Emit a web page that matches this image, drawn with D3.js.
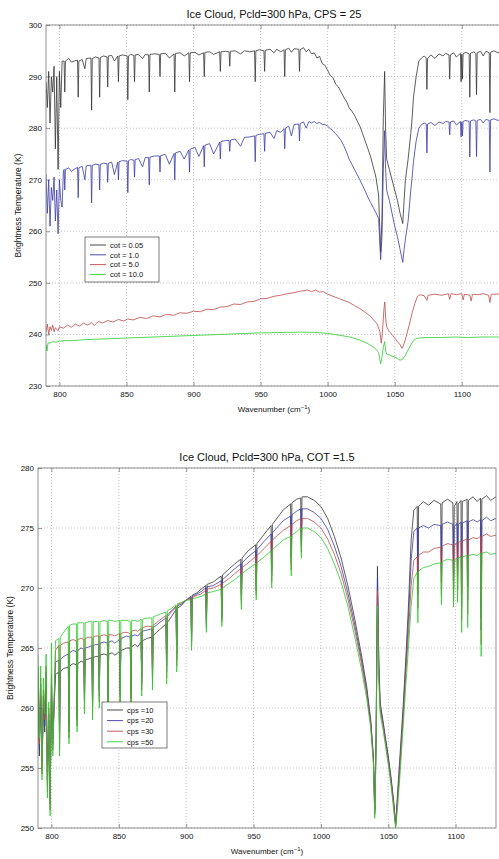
<!DOCTYPE html>
<html>
<head>
<meta charset="utf-8">
<script src="https://cdn.jsdelivr.net/npm/d3@7"></script>
<style>
  body { margin: 0; background: #fff; }
  text { font-family: "Liberation Sans", Arial, sans-serif; fill: #111; }
</style>
<script>
// ---- data ----
var xTicks = [800, 850, 900, 950, 1000, 1050, 1100];
var topYTicks = [230, 240, 250, 260, 270, 280, 290, 300];
var botYTicks = [250, 255, 260, 265, 270, 275, 280];
var topNames = ["cot = 0.05", "cot = 1.0", "cot = 5.0", "cot = 10.0"];
var botNames = ["cps =10", "cps =20", "cps =30", "cps =50"];
var lineColors = ["#333333", "#3a3aa8", "#c04848", "#2ccc2c"];

// top panel, [wavenumber, K]
var cot005 = [[790,289],[791,284],[792,291],[793,281],[794,290],[795,287],[796,292],[797,276],[798,290],[799,272],[800,291],[801,284],[802,293],[803.5,293],[804,287],[804.5,293],[807,293.5],[809,292.8],[811,293],[813.5,293.2],[814,286],[814.5,293],[817,293.3],[819,291.5],[820,293.5],[823.5,293.6],[824,283.5],[824.5,293.5],[827,293.8],[829.5,293.6],[830,286],[830.5,293.7],[833,294],[835.5,293.8],[836,288],[836.5,294],[839,294.1],[841,293],[843.5,294],[844,289],[844.5,294],[847,294.2],[850.5,294],[851,285.5],[851.5,294],[853,294.3],[855.5,294.1],[856,289],[856.5,294.2],[859,294.3],[862,293.5],[864,294.3],[866.5,294.2],[867,287],[867.5,294.3],[871,294.4],[874.5,294.3],[875,290],[875.5,294.4],[879,294.5],[882,293.6],[885.5,294.4],[886,287],[886.5,294.5],[890,294.6],[893,294],[896.5,294.6],[897,289],[897.5,294.6],[901,294.7],[904,294.2],[907.5,294.6],[908,290],[908.5,294.7],[912,294.8],[915,294.3],[919.5,294.8],[920,291],[920.5,294.8],[924,294.9],[926.5,294.8],[927,292],[927.5,294.9],[931,295],[935,294.4],[938,295],[942,294.8],[945.5,295],[946,289],[946.5,295],[949,295.2],[952.5,295],[953,291],[953.5,295.1],[957,295.3],[960,294.6],[962,295.3],[965,294.8],[967.5,295.2],[968,290],[968.5,295.2],[971,295.5],[973,294.7],[975,295.4],[978.5,295.3],[979,291],[979.5,295.2],[982,295.6],[984,294.8],[986,295.3],[988,294.4],[990,294.6],[992,293.6],[994,293.9],[996,292.5],[998,292.2],[1000,291.2],[1002,290.2],[1004,289.8],[1006,288.5],[1008,288],[1010,287],[1012,286],[1014,285.2],[1016,284],[1018,283.3],[1020,282.5],[1022,281.4],[1024,280.4],[1026,279],[1028,277.5],[1030,276],[1032,274.5],[1034,272.5],[1036,270.5],[1038,267],[1039.5,256],[1040.5,262],[1041.5,282],[1042.5,291],[1043.2,280],[1044,274],[1046,272],[1048,270],[1050,268],[1052,266],[1054,263.5],[1056,261.5],[1057,266],[1058,270],[1060,274],[1062,279],[1063,282],[1064,286],[1066,290],[1068,293],[1070,293.6],[1072,294],[1073.5,293.6],[1074,287.5],[1074.5,293.5],[1077,294.2],[1080,293.5],[1083,294.4],[1086,294],[1088,294.5],[1090.5,294.2],[1091,289.5],[1091.5,294.2],[1094,294.6],[1096,293.8],[1099,294.5],[1099.5,289],[1100,294.3],[1100.5,289.5],[1101,294.4],[1103,294.7],[1105.5,294.4],[1106,286],[1106.5,294.5],[1109,294.8],[1110.5,294.5],[1111,286.5],[1111.5,294.6],[1114,294.9],[1116,294],[1118,294.9],[1120.5,294.6],[1121,283],[1121.5,294.7],[1124,295],[1127,294.6],[1130,295]];

var cot1 = [[790,271],[791,263.5],[792,270],[793,261],[794,268.5],[795,266],[796,270.5],[797,262],[798,268],[799,259.5],[800,270],[801,266],[802,264.7],[803,271.8],[803.5,272],[804,268],[804.5,272],[807,272.3],[809,271.6],[811,272],[813.5,272.4],[814,266.5],[814.5,272.3],[817,272.6],[819,270],[820,272.7],[823.5,272.8],[824,265.5],[824.5,272.8],[827,273],[829.5,272.9],[830,268],[830.5,273],[833,273.2],[835.5,273.1],[836,269.5],[836.5,273.2],[839,273.4],[841,271],[843.5,273.4],[844,270],[844.5,273.5],[847,273.7],[850.5,273.6],[851,267.5],[851.5,273.7],[853,273.9],[855.5,273.8],[856,270.5],[856.5,273.9],[859,274.1],[862,272.5],[864,274.3],[866.5,274.3],[867,269],[867.5,274.4],[871,274.6],[874.5,274.6],[875,271.5],[875.5,274.7],[879,274.9],[882,273],[885.5,275.1],[886,270],[886.5,275.2],[890,275.5],[893,274],[896.5,275.8],[897,271.5],[897.5,275.9],[901,276.3],[904,274.5],[907.5,276.6],[908,272.5],[908.5,276.7],[912,277],[915,275],[919.5,277.3],[920,274],[920.5,277.4],[924,277.6],[926.5,277.6],[927,275.5],[927.5,277.7],[931,277.9],[935,276.5],[938,278.2],[942,278.3],[945.5,278.5],[946,273.5],[946.5,278.6],[949,278.8],[952.5,278.9],[953,275.5],[953.5,279],[957,279.2],[960,278],[962,279.5],[965,279.2],[967.5,279.9],[968,276],[968.5,280],[971,280.4],[973,278.5],[975,280.7],[978.5,280.8],[979,277.5],[979.5,280.9],[982,281.2],[984,280],[986,281.3],[988,281],[990,281.3],[992,280.9],[994,281.1],[996,280.7],[998,280.7],[1000,280.4],[1002,279.9],[1004,279.5],[1006,278.9],[1008,278.3],[1010,277.6],[1012,276.6],[1014,275.4],[1016,274],[1018,273],[1020,272],[1022,271],[1024,270],[1026,268.9],[1028,267.8],[1030,266.6],[1032,265.6],[1034,264.6],[1036,263.6],[1038,262.5],[1039.5,254.5],[1040.5,259],[1041.5,272],[1042.5,279.5],[1043.2,272],[1044,268],[1046,266],[1048,263.5],[1050,261],[1052,259],[1054,256.5],[1056,254],[1057,256.5],[1058,258.5],[1060,262],[1062,268],[1063,270.5],[1064,273.5],[1066,277.5],[1068,280],[1070,280.7],[1072,281],[1073.5,280.8],[1074,275.2],[1074.5,280.8],[1077,281.1],[1080,280.5],[1083,281.2],[1086,280.9],[1088,281.3],[1090.5,281.2],[1091,278.7],[1091.5,281.2],[1094,281.4],[1096,280.6],[1099,281.3],[1099.5,278.3],[1100,281.2],[1100.5,278.5],[1101,281.3],[1103,281.5],[1105.5,281.3],[1106,274.4],[1106.5,281.4],[1109,281.6],[1110.5,281.4],[1111,274.5],[1111.5,281.5],[1114,281.7],[1116,281],[1118,281.7],[1120.5,281.5],[1121,271.5],[1121.5,281.6],[1124,281.8],[1127,281.5],[1130,281.8]];

var cot5 = [[790,240.5],[791,242],[792,240],[793,241.5],[794,240.8],[795,241.8],[796,240.5],[797,241.3],[799,240.7],[800,241.5],[803,241.2],[806,241.8],[809,241.4],[812,242],[815,241.6],[818,242.2],[821,241.8],[824,242.3],[826,241.7],[829,242.5],[832,242.2],[836,242.7],[840,242.4],[844,242.9],[848,242.6],[851,243],[855,242.8],[860,243.3],[865,243.1],[870,243.6],[875,243.4],[880,243.9],[885,243.7],[890,244.2],[895,244.1],[900,244.5],[905,244.4],[910,244.9],[915,244.8],[920,245.3],[925,245.4],[930,245.9],[935,245.8],[940,246.3],[945,246.4],[950,246.9],[955,247],[960,247.4],[965,247.6],[970,247.9],[975,248.1],[980,248.4],[985,248.6],[988,248.3],[991,248.6],[994,248.2],[997,248.3],[1000,247.8],[1004,247.4],[1008,247],[1012,246.6],[1016,246.2],[1020,245.6],[1024,245],[1028,244.3],[1032,243.5],[1035,242.6],[1037,242],[1039,240.5],[1040,238.3],[1041,241],[1042,245],[1042.6,246.3],[1043.3,243],[1044,241.5],[1046,240.5],[1048,240],[1050,239.3],[1052,238.6],[1054,238],[1055.5,237.3],[1057,238.2],[1059,240],[1061,242],[1063,244.2],[1065,246],[1067,247.4],[1069,247.7],[1072,247.5],[1074,246.6],[1075,247.6],[1080,247.8],[1085,247.6],[1090,247.9],[1091,246.8],[1092,247.9],[1096,247.7],[1100,247.9],[1101,246.7],[1102,247.8],[1106,247.6],[1107,246.5],[1108,247.8],[1112,247.7],[1116,247.9],[1120,247.6],[1121,246.2],[1122,247.8],[1126,247.8],[1130,247.9]];

var cot10 = [[790,238],[790.8,236.8],[791.5,238.4],[793,238.3],[795,238.6],[798,238.5],[800,238.7],[805,238.8],[810,238.8],[820,239],[830,239.1],[840,239.2],[850,239.3],[860,239.4],[870,239.5],[880,239.6],[890,239.7],[900,239.8],[910,239.9],[920,240],[930,240.1],[940,240.2],[950,240.3],[960,240.35],[970,240.4],[980,240.45],[990,240.4],[1000,240.2],[1010,239.8],[1018,239.4],[1024,238.9],[1030,238.2],[1035,237.4],[1038,236.5],[1039.5,234.3],[1040.5,235.5],[1041.5,237.5],[1042.5,238.6],[1043.3,236.8],[1044,236.2],[1046,236],[1048,235.8],[1050,235.6],[1052,235.3],[1054,235],[1056,235.2],[1058,236],[1060,237],[1062,238],[1064,238.8],[1066,239.2],[1068,239.3],[1075,239.4],[1085,239.4],[1095,239.5],[1105,239.4],[1115,239.5],[1125,239.5],[1130,239.5]];

// bottom panel: shared wavenumbers, one value list per cps
var wnB = [
  790, 791, 792, 793, 794, 795, 796, 797, 798, 799,
  800, 801, 803, 805.5, 806, 806.5, 809, 812.5, 813, 813.5,
  816, 818.5, 819, 819.5, 822, 824, 824.5, 825, 828, 830,
  830.5, 831, 833, 835, 835.5, 836, 839, 841.5, 842, 842.5,
  845, 847, 850.5, 851, 851.5, 854, 856, 858.5, 859, 859.5,
  862, 864, 866.5, 867, 867.5, 871, 874.5, 875, 875.5, 878,
  880, 885, 885.5, 886, 889, 892.5, 893, 893.5, 897, 900,
  903.5, 904, 904.5, 908, 911, 914.5, 915, 915.5, 920, 926,
  926.5, 927, 932, 936, 940.5, 941, 941.5, 946, 951.5, 952,
  952.5, 958, 963, 963.5, 964, 968, 972, 977.5, 978, 978.5,
  982, 985, 985.5, 986, 990, 995, 1000, 1005, 1010, 1015,
  1020, 1025, 1030, 1034, 1037, 1039, 1040, 1041, 1042, 1043,
  1044, 1046, 1048, 1050, 1052, 1054, 1055.5, 1057, 1059, 1061,
  1063, 1065, 1067, 1069, 1071.5, 1072, 1072.5, 1076, 1080, 1084,
  1089, 1089.5, 1090, 1094, 1098, 1098.5, 1099, 1101, 1101.5, 1102,
  1104, 1104.5, 1105, 1108.5, 1109, 1109.5, 1113, 1116, 1118.5, 1119,
  1119.5, 1123, 1126, 1130];

var cps10 = [
  262, 256, 261, 255.5, 260, 258, 262, 254, 259, 252.5,
  261, 257.5, 262.8, 263, 257.5, 263, 263.3, 263.4, 258.5, 263.5,
  263.7, 263.6, 259.5, 263.7, 263.9, 263.8, 260.8, 264, 264.1, 264.2,
  260.5, 264.2, 264.3, 264.3, 261.5, 264.4, 264.5, 264.4, 261, 264.5,
  264.6, 264.4, 264.7, 261.5, 264.8, 264.9, 265, 265, 261.2, 265.1,
  265.3, 265.1, 265.5, 262.5, 265.6, 265.8, 265.9, 263, 266, 266.3,
  266.5, 267, 263.5, 267.1, 267.6, 268.2, 264.5, 268.3, 268.6, 269,
  269.3, 265.8, 269.4, 269.6, 269.9, 270.2, 267.3, 270.3, 270.5, 271,
  267.8, 271.1, 271.6, 272, 272.4, 269.4, 272.5, 273.1, 273.6, 270.2,
  273.7, 274.5, 275.2, 271.5, 275.3, 275.9, 276.5, 277, 272.5, 277.1,
  277.4, 277.5, 274, 277.6, 277.6, 277.3, 276.8, 275.8, 274.3, 272.5,
  270.2, 267.5, 264.5, 261.8, 259, 256, 251.5, 258, 271.8, 264,
  260.5, 259, 257.5, 256, 254.3, 252.3, 250.3, 253, 256.5, 260,
  264, 268.5, 274, 276.5, 276.8, 270.5, 276.8, 277.2, 276.9, 277.3,
  277, 271.5, 277.1, 277.4, 277.1, 271, 276.8, 277.2, 272, 277,
  277.3, 269.5, 277.2, 277.4, 270, 277.3, 277.6, 277.2, 277.5, 267.5,
  277.4, 277.7, 277.3, 277.6];

var cps20 = [
  263, 256.5, 262, 255, 261, 258.5, 263, 253.5, 259.5, 252,
  262, 257, 263.8, 264, 257, 264, 264.3, 264.5, 258, 264.6,
  264.8, 264.7, 259, 264.8, 265, 264.9, 260.5, 265, 265.1, 265.2,
  260, 265.2, 265.3, 265.3, 261, 265.4, 265.5, 265.4, 260.5, 265.5,
  265.6, 265.4, 265.7, 261, 265.8, 265.9, 266, 265.9, 260.8, 266,
  266.1, 266, 266.3, 262, 266.4, 266.5, 266.6, 262.5, 266.7, 266.9,
  267.1, 267.5, 263, 267.6, 268, 268.4, 264, 268.5, 268.7, 269,
  269.2, 265.5, 269.3, 269.5, 269.7, 270, 267, 270.1, 270.2, 270.6,
  267.5, 270.7, 271.2, 271.6, 272, 269, 272.1, 272.6, 273.1, 269.8,
  273.2, 273.9, 274.5, 271, 274.6, 275.1, 275.6, 276, 272, 276.1,
  276.4, 276.6, 273.5, 276.6, 276.6, 276.3, 275.8, 274.9, 273.5, 271.8,
  269.6, 267, 264.1, 261.5, 258.8, 255.8, 251.3, 257.5, 270.8, 263.5,
  260.2, 258.8, 257.3, 255.8, 254.1, 252.1, 250.2, 252.6, 256, 259.5,
  263.3, 267.3, 272.3, 274.7, 275, 269.5, 275, 275.2, 275, 275.3,
  275.2, 270.5, 275.3, 275.5, 275.3, 270, 275.1, 275.4, 271, 275.3,
  275.5, 268.5, 275.4, 275.6, 269, 275.5, 275.7, 275.5, 275.7, 266.5,
  275.6, 275.9, 275.6, 275.8];

var cps30 = [
  263.5, 257, 262.5, 254.5, 261.5, 259, 263.5, 253, 260, 251.5,
  262.8, 256.5, 264.8, 265.2, 256.5, 265.2, 265.4, 265.5, 257.5, 265.6,
  265.7, 265.6, 258.5, 265.7, 265.8, 265.7, 260, 265.8, 265.9, 265.9,
  259.5, 265.9, 266, 266, 260.5, 266, 266.1, 266, 260, 266.1,
  266.1, 266, 266.2, 260.5, 266.2, 266.3, 266.3, 266.2, 260.5, 266.4,
  266.5, 266.4, 266.6, 261.5, 266.7, 266.8, 266.8, 262, 266.9, 267.1,
  267.3, 267.7, 262.5, 267.8, 268.1, 268.5, 263.5, 268.6, 268.8, 269,
  269.1, 265.2, 269.2, 269.4, 269.5, 269.8, 266.7, 269.9, 270, 270.3,
  267.2, 270.4, 270.8, 271.2, 271.6, 268.6, 271.7, 272.1, 272.6, 269.4,
  272.7, 273.3, 273.9, 270.5, 274, 274.4, 274.8, 275.2, 271.5, 275.3,
  275.6, 275.8, 273, 275.8, 275.8, 275.5, 275, 274.1, 272.8, 271.2,
  269.1, 266.6, 263.8, 261.2, 258.6, 255.6, 251.1, 257, 269.8, 263,
  259.9, 258.6, 257.1, 255.6, 253.9, 251.9, 250.1, 252.3, 255.6, 259,
  262.7, 266.2, 270.2, 272.3, 272.6, 268.3, 272.7, 273, 273, 273.3,
  273.4, 269.3, 273.5, 273.7, 273.6, 268.9, 273.5, 273.8, 269.8, 273.8,
  273.9, 267.3, 273.9, 274.1, 267.8, 274, 274.2, 274.1, 274.3, 265.3,
  274.3, 274.5, 274.3, 274.4];

var cps50 = [
  264.5, 257.5, 263.5, 254, 262.5, 259.5, 264.5, 252.5, 260.5, 251,
  265.4, 256, 265.6, 265.8, 256, 265.9, 266.3, 266.8, 257, 266.9,
  267, 267, 258, 267.1, 267.1, 267.1, 259.5, 267.1, 267.2, 267.2,
  259, 267.2, 267.2, 267.2, 260, 267.2, 267.3, 267.2, 259.5, 267.3,
  267.3, 267.2, 267.3, 260, 267.3, 267.3, 267.3, 267.2, 260.2, 267.3,
  267.3, 267.2, 267.4, 261, 267.4, 267.5, 267.5, 261.5, 267.6, 267.7,
  267.8, 268, 262, 268.1, 268.3, 268.6, 263, 268.7, 268.8, 269,
  269, 264.8, 269.1, 269.2, 269.3, 269.5, 266.3, 269.6, 269.7, 269.9,
  266.8, 270, 270.4, 270.7, 271.1, 268.2, 271.2, 271.6, 272, 269,
  272.1, 272.6, 273.1, 270, 273.2, 273.6, 274, 274.3, 271, 274.4,
  274.7, 275, 272.5, 275, 275, 274.7, 274.2, 273.3, 272, 270.5,
  268.5, 266, 263.3, 260.8, 258.3, 255.3, 250.8, 256.5, 268.5, 262.3,
  259.5, 258.3, 256.8, 255.3, 253.6, 251.6, 250, 251.8, 254.8, 258.3,
  261.8, 265, 268.5, 270.8, 271.3, 267.1, 271.4, 271.7, 271.8, 272,
  272.1, 268.6, 272.2, 272.4, 272.3, 268.4, 272.2, 272.5, 268.8, 272.5,
  272.6, 266.3, 272.6, 272.7, 266.7, 272.7, 272.8, 272.7, 272.9, 264.3,
  272.9, 273, 272.8, 272.9];

function drawPanel(svg, p, id) {
    var x = d3.scaleLinear().domain([790, 1130]).range([p.left, p.right]);
    var y = d3.scaleLinear().domain(p.yDomain).range([p.bottom, p.top]);
    var h = p.bottom - p.top, w = p.right - p.left;

    svg.append("clipPath").attr("id", id)
       .append("rect").attr("x", p.left).attr("y", p.top).attr("width", w).attr("height", h);

    // dotted grid
    var grid = svg.append("g").attr("stroke", "#9a9a9a").attr("stroke-width", 0.6)
                  .attr("stroke-dasharray", "1,2");
    grid.selectAll(".gx").data(xTicks).enter().append("line")
        .attr("x1", d => x(d)).attr("x2", d => x(d)).attr("y1", p.top).attr("y2", p.bottom);
    grid.selectAll(".gy").data(p.yTicks).enter().append("line")
        .attr("x1", p.left).attr("x2", p.right).attr("y1", d => y(d)).attr("y2", d => y(d));

    // spectra
    var lineMkr = d3.line().x(d => x(d[0])).y(d => y(d[1]));
    svg.append("g").attr("clip-path", "url(#" + id + ")")
       .selectAll("path").data(p.series).enter().append("path")
       .attr("d", d => lineMkr(d))
       .attr("fill", "none")
       .attr("stroke", (d, i) => lineColors[i])
       .attr("stroke-width", 0.8)
       .attr("stroke-linejoin", "round");

    // axes with inward ticks
    var ax = svg.append("g").attr("transform", "translate(0," + p.bottom + ")")
                .call(d3.axisBottom(x).tickValues(xTicks).tickFormat(d3.format("d"))
                        .tickSize(-4).tickPadding(5));
    var ay = svg.append("g").attr("transform", "translate(" + p.left + ",0)")
                .call(d3.axisLeft(y).tickValues(p.yTicks).tickFormat(d3.format("d"))
                        .tickSize(-4).tickPadding(4));
    svg.append("g").attr("transform", "translate(0," + p.top + ")")
       .call(d3.axisTop(x).tickValues(xTicks).tickSize(-4).tickFormat(""));
    [ax, ay].forEach(function(g) {
        g.selectAll("text").attr("font-size", "8px").attr("fill", "#111");
    });
    svg.selectAll(".domain").remove();
    svg.selectAll(".tick line").attr("stroke", "#555").attr("stroke-width", 0.6);

    svg.append("rect").attr("x", p.left).attr("y", p.top).attr("width", w).attr("height", h)
       .attr("fill", "none").attr("stroke", "#777").attr("stroke-width", 0.8);

    // titles
    svg.append("text").attr("x", (p.left + p.right) / 2).attr("y", p.top - 7)
       .attr("text-anchor", "middle").attr("font-size", "11px").text(p.title);
    var xl = svg.append("text").attr("x", (p.left + p.right) / 2).attr("y", p.bottom + 26)
                .attr("text-anchor", "middle").attr("font-size", "8px");
    xl.append("tspan").text("Wavenumber (cm");
    xl.append("tspan").attr("dy", -3).attr("font-size", "6px").text("\u22121");
    xl.append("tspan").attr("dy", 3).text(")");
    svg.append("text")
       .attr("transform", "translate(" + p.yLabelX + "," + (p.top + p.bottom) / 2 + ") rotate(-90)")
       .attr("text-anchor", "middle").attr("font-size", "8.5px")
       .text("Brightness Temperature (K)");

    // legend
    var lg = svg.append("g").attr("transform", "translate(" + p.legend[0] + "," + p.legend[1] + ")");
    lg.append("rect").attr("width", p.legend[2]).attr("height", p.legend[3])
      .attr("fill", "#fff").attr("stroke", "#444").attr("stroke-width", 0.7);
    var rows = lg.selectAll(".row").data(p.names).enter().append("g")
                 .attr("transform", (d, i) => "translate(0," + (8 + i * p.legendStep) + ")");
    rows.append("line").attr("x1", 5).attr("x2", 21).attr("y1", 0).attr("y2", 0)
        .attr("stroke", (d, i) => lineColors[i]).attr("stroke-width", 0.9);
    rows.append("text").attr("x", 25).attr("y", 2.8).attr("font-size", "7.5px").text(d => d);
}

function makeSVG() {
    var svg = d3.select("#fig");
    drawPanel(svg, {
        left: 46, right: 502, top: 25, bottom: 386,
        yDomain: [230, 300], yTicks: topYTicks,
        series: [cot005, cot1, cot5, cot10], names: topNames,
        title: "Ice Cloud, Pcld=300 hPa, CPS = 25",
        yLabelX: 21, legend: [85, 237, 74, 45], legendStep: 9.8
    }, "clipTop");
    drawPanel(svg, {
        left: 38, right: 496, top: 468, bottom: 828,
        yDomain: [250, 280], yTicks: botYTicks,
        series: [d3.zip(wnB, cps10), d3.zip(wnB, cps20), d3.zip(wnB, cps30), d3.zip(wnB, cps50)],
        names: botNames,
        title: "Ice Cloud, Pcld=300 hPa, COT =1.5",
        yLabelX: 13, legend: [102, 702, 65, 46], legendStep: 10.6
    }, "clipBot");
}
</script>
</head>
<body onload="makeSVG()">
<svg id="fig" width="499" height="859"></svg>
</body>
</html>
